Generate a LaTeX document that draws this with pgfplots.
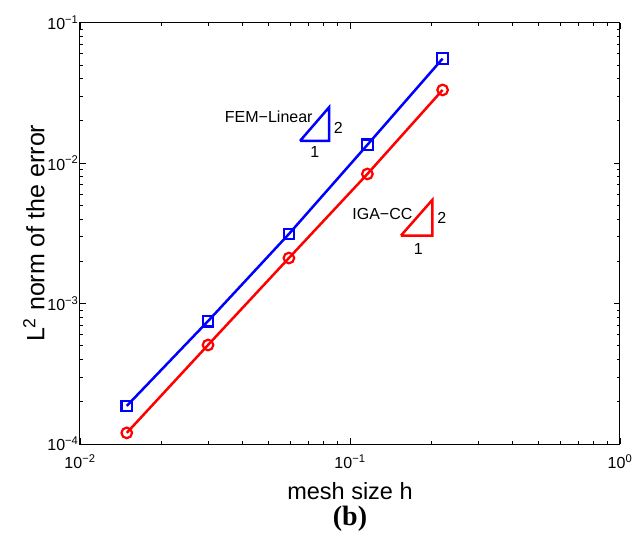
\documentclass[border=0pt]{standalone}
\usepackage{pgfplots}
\pgfplotsset{compat=1.18}
\usepackage{fontspec}
\setmainfont{Liberation Sans}
\newfontfamily\timesfont{Liberation Serif}
\begin{document}
\begin{tikzpicture}
\path[use as bounding box] (-80pt,-93pt) rectangle (552pt,444pt);
\begin{axis}[
  at={(0pt,0pt)}, anchor=south west,
  scale only axis, width=540pt, height=421.3pt,
  xmode=log, ymode=log,
  xmin=0.01, xmax=1, ymin=1e-4, ymax=1e-1,
  xtick={0.01,0.1,1},
  xticklabels={10\textsuperscript{−2},10\textsuperscript{−1},10\textsuperscript{0}},
  ytick={1e-4,1e-3,1e-2,1e-1},
  yticklabels={10\textsuperscript{−4},10\textsuperscript{−3},10\textsuperscript{−2},10\textsuperscript{−1}},
  tick align=inside,
  major tick length=6pt, minor tick length=3.5pt,
  tick style={black, line width=0.8pt},
  axis line style={line width=1pt},
  ticklabel style={font=\fontsize{16}{18}\selectfont},
  xticklabel style={yshift=-7pt},
  yticklabel style={xshift=2pt},
  xlabel={mesh size h},
  ylabel={L\textsuperscript{2} norm of the error},
  xlabel style={font=\fontsize{23.5}{26}\selectfont, at={(axis description cs:0.5,0)}, anchor=center, yshift=-47pt},
  ylabel style={font=\fontsize{25}{28}\selectfont, at={(axis description cs:0,0.5)}, anchor=center, yshift=46pt},
  clip=false,
]
\addplot[blue, line width=2.5pt, mark=square, mark size=5.3pt, mark options={solid, line width=2.2pt}]
  coordinates {(0.0149,1.866e-4) (0.0298,7.5e-4) (0.0594,3.13e-3) (0.116,1.35e-2) (0.2203,5.55e-2)};
\addplot[red, line width=2.5pt, mark=o, mark size=5.3pt, mark options={solid, line width=2.2pt}]
  coordinates {(0.0149,1.2e-4) (0.0298,5.07e-4) (0.0594,2.11e-3) (0.116,8.37e-3) (0.2203,3.32e-2)};
% slope triangles
\addplot[blue, line width=2.5pt, line join=miter]
  coordinates {(0.0653,0.01439) (0.0837,0.01439) (0.0837,0.025) (0.0653,0.01439)};
\addplot[red, line width=2.5pt, line join=miter]
  coordinates {(0.1545,3.05e-3) (0.2018,3.05e-3) (0.2018,5.47e-3) (0.1545,3.05e-3)};
\node[anchor=east, inner sep=0pt, font=\fontsize{16}{18}\selectfont] at (axis cs:0.0728,0.02123) {FEM−Linear};
\node[inner sep=0pt, font=\fontsize{16}{18}\selectfont] at (axis cs:0.0906,0.0179) {2};
\node[inner sep=0pt, font=\fontsize{16}{18}\selectfont] at (axis cs:0.0741,0.01198) {1};
\node[anchor=east, inner sep=0pt, font=\fontsize{16}{18}\selectfont] at (axis cs:0.1706,4.33e-3) {IGA−CC};
\node[inner sep=0pt, font=\fontsize{16}{18}\selectfont] at (axis cs:0.2188,4.05e-3) {2};
\node[inner sep=0pt, font=\fontsize{16}{18}\selectfont] at (axis cs:0.179,2.45e-3) {1};
\node[font=\timesfont\bfseries\fontsize{28}{32}\selectfont] at (axis description cs:0.5,0) [yshift=-75pt] {(b)};
\end{axis}
\end{tikzpicture}
\end{document}
